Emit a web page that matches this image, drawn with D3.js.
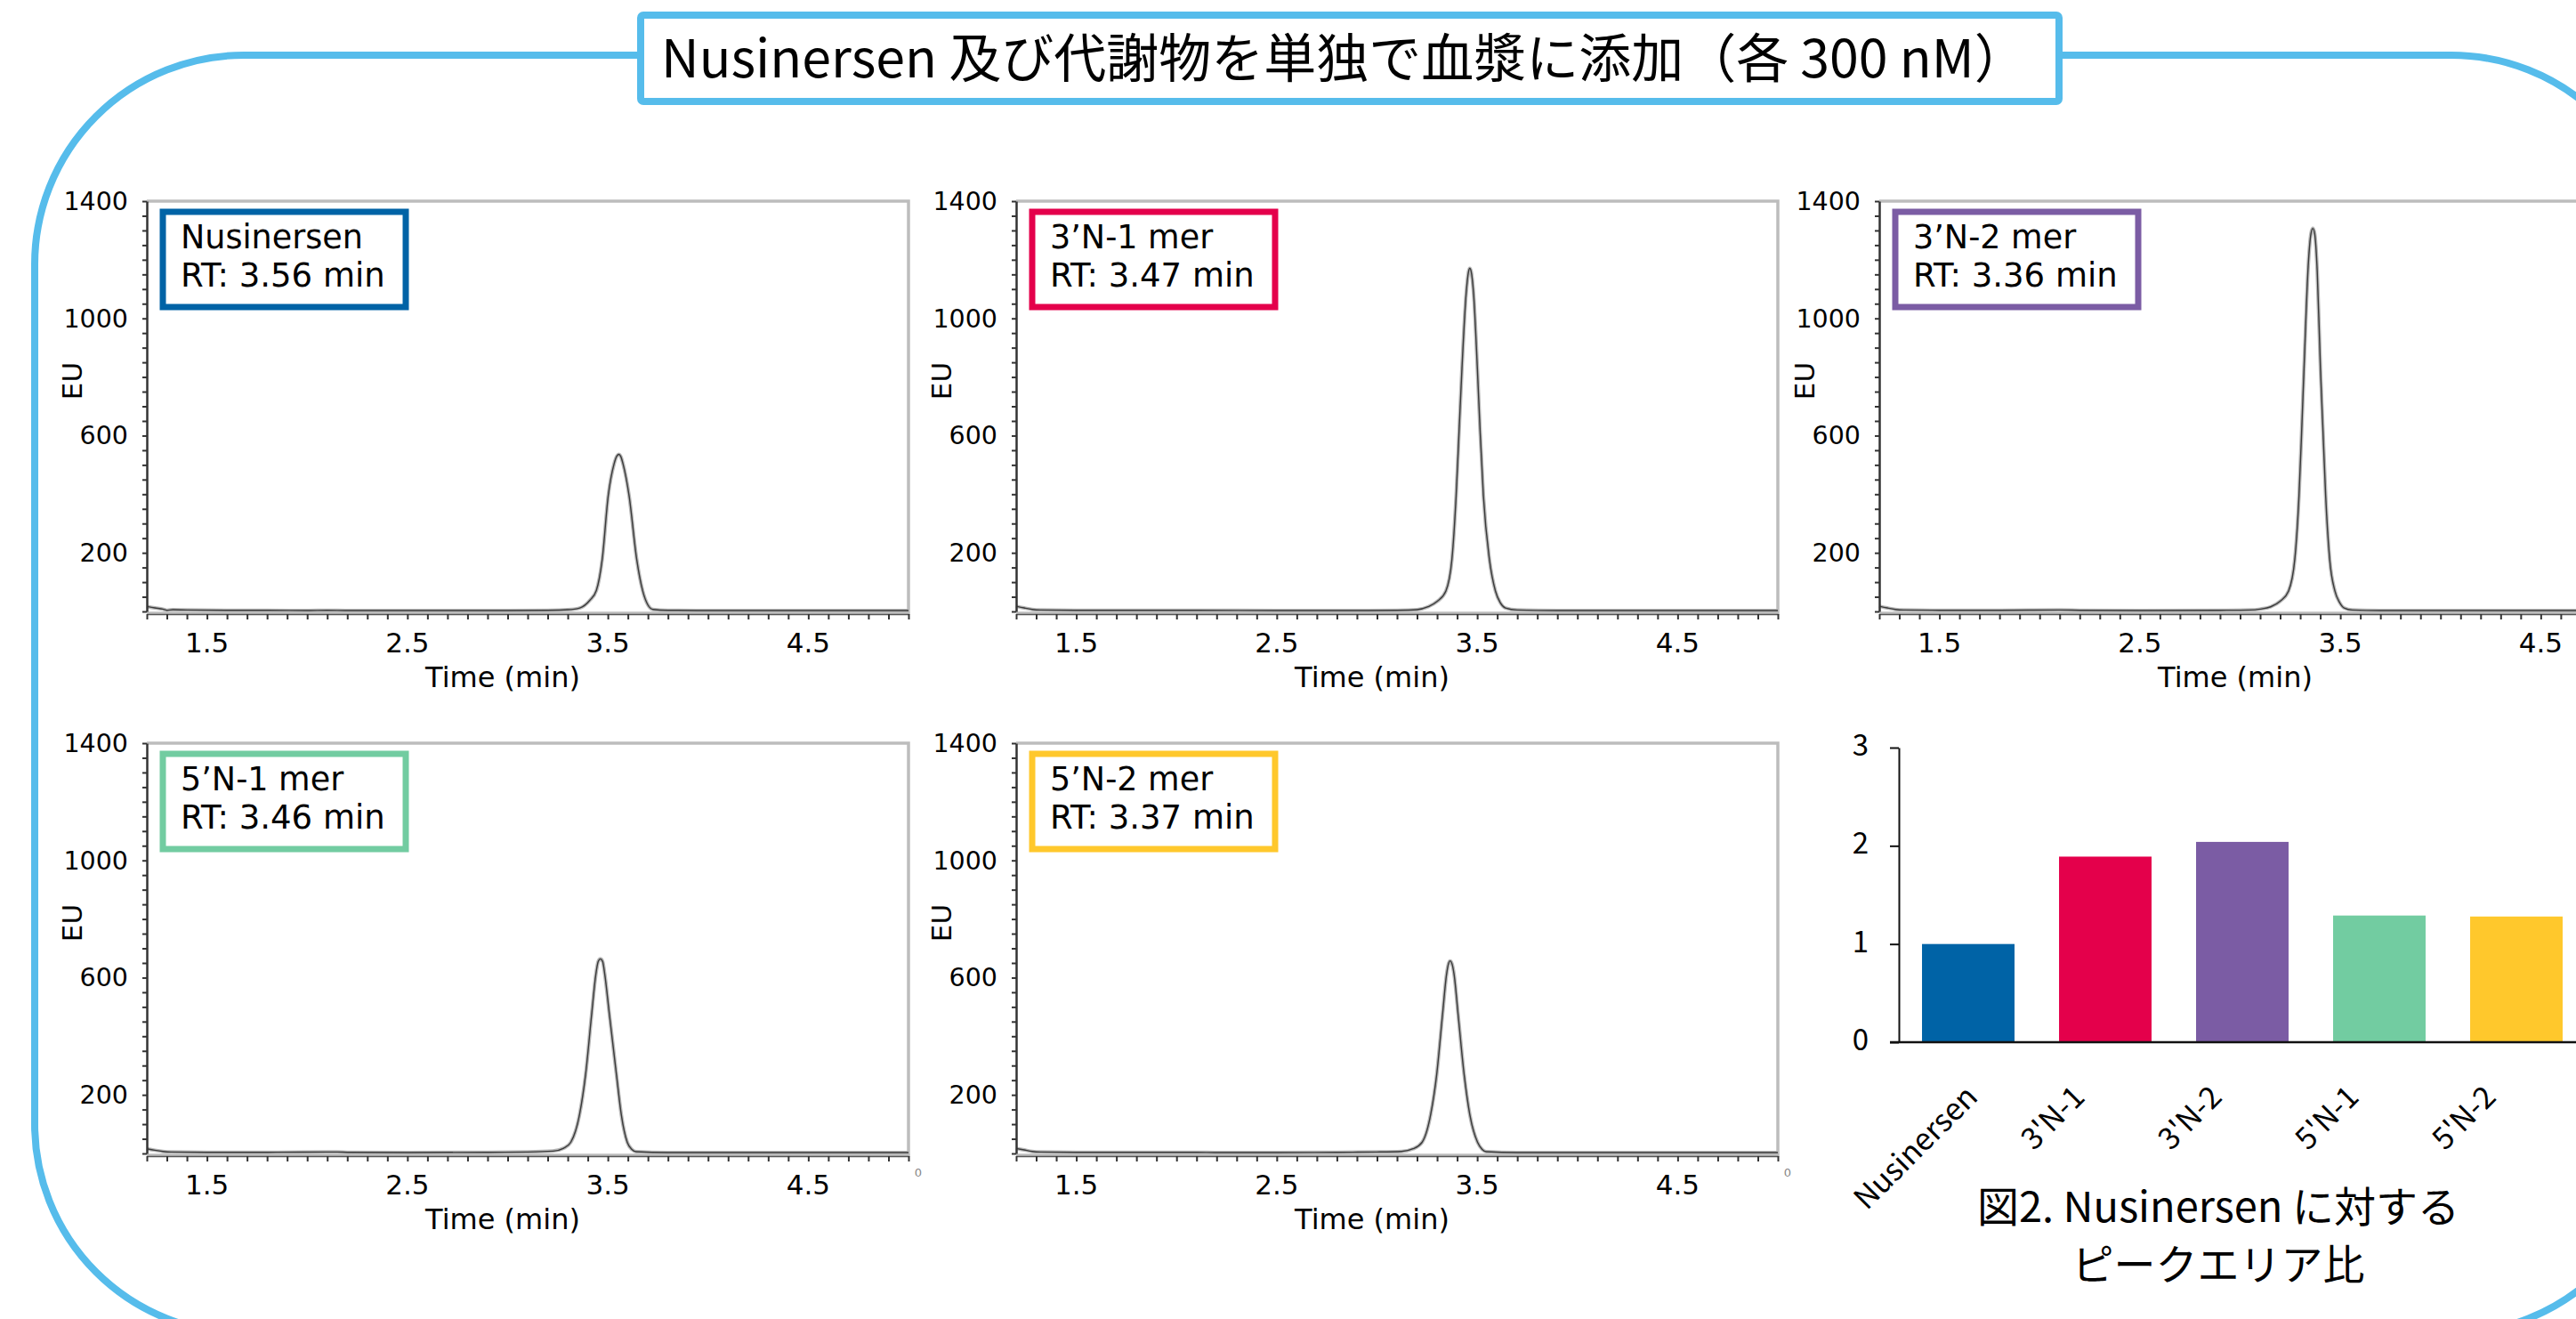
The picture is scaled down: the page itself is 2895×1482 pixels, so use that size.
<!DOCTYPE html>
<html><head><meta charset="utf-8">
<script src="https://cdn.jsdelivr.net/npm/d3@7"></script>
<style>
html,body{margin:0;padding:0;background:#fff;}
svg{display:block;}
</style></head>
<body>
<svg id="c" width="2895" height="1482"></svg>
<script>
// ---------------- data ----------------
const title = "Nusinersen 及び代謝物を単独で血漿に添加（各 300 nM）";
const compounds = ["Nusinersen", "3’N-1 mer", "3’N-2 mer", "5’N-1 mer", "5’N-2 mer"];
const retentionTimes = ["3.56", "3.47", "3.36", "3.46", "3.37"];
const seriesColors = ["#0063a6", "#e4004b", "#7b5ca4", "#72cca1", "#ffc82c"];
const xTickLabels = [1.5, 2.5, 3.5, 4.5];
const yTickLabels = [200, 600, 1000, 1400];
const xAxisTitle = "Time (min)";
const yAxisTitle = "EU";

// chromatograms [time (min), EU]
const traceNusinersen = [[1.2,17],[1.24,12],[1.28,8],[1.3,4],[1.33,6],[1.4,5],[1.6,4],[1.8,4],[2.0,3],[2.1,4],[2.2,3],[2.5,3],[2.8,3],[3.0,3],[3.2,4],[3.3,6],[3.36,12],[3.41,38],[3.443,72],[3.472,178],[3.502,395],[3.531,503],[3.545,530],[3.555,536],[3.565,528],[3.576,503],[3.606,395],[3.644,178],[3.674,70],[3.70,22],[3.725,7],[3.8,4],[4.0,3],[4.5,3],[5.0,3]];
const trace3N1 = [[1.2,18],[1.24,12],[1.28,7],[1.32,5],[1.5,4],[1.8,4],[2.1,4],[2.5,3],[2.9,3],[3.1,4],[3.2,6],[3.255,16],[3.30,34],[3.344,70],[3.374,178],[3.395,395],[3.41,620],[3.424,828],[3.445,1085],[3.457,1160],[3.463,1171],[3.47,1160],[3.482,1085],[3.501,828],[3.515,610],[3.531,395],[3.561,178],[3.591,70],[3.615,30],[3.641,12],[3.7,5],[3.9,3],[4.5,3],[5.0,3]];
const trace3N2 = [[1.2,18],[1.24,12],[1.28,7],[1.32,5],[1.5,4],[1.8,4],[2.1,5],[2.2,4],[2.5,3],[2.9,4],[3.05,5],[3.1,8],[3.153,16],[3.2,35],[3.242,70],[3.273,178],[3.294,395],[3.307,610],[3.319,828],[3.34,1180],[3.354,1290],[3.363,1307],[3.372,1290],[3.385,1160],[3.401,828],[3.414,610],[3.427,395],[3.447,178],[3.473,70],[3.497,30],[3.519,12],[3.56,5],[3.7,3],[4.5,3],[5.0,3]];
const trace5N1 = [[1.2,16],[1.24,11],[1.28,7],[1.32,5],[1.5,4],[1.8,4],[2.15,5],[2.2,4],[2.5,3],[2.9,4],[3.1,5],[3.226,8],[3.28,18],[3.315,38],[3.359,133],[3.389,269],[3.419,473],[3.44,610],[3.452,655],[3.463,664],[3.474,655],[3.485,610],[3.508,473],[3.543,269],[3.567,133],[3.597,38],[3.62,14],[3.641,6],[3.8,3],[4.5,3],[5.0,3]];
const trace5N2 = [[1.2,17],[1.24,12],[1.28,7],[1.32,5],[1.5,4],[1.8,4],[2.1,4],[2.2,3],[2.5,3],[2.8,4],[3.0,5],[3.123,7],[3.18,16],[3.225,38],[3.268,133],[3.298,269],[3.327,473],[3.347,610],[3.357,648],[3.365,657],[3.374,648],[3.385,610],[3.405,473],[3.435,269],[3.463,133],[3.502,38],[3.525,14],[3.545,6],[3.7,3],[4.5,3],[5.0,3]];

// peak area ratio bar chart
const barCategories = ["Nusinersen", "3'N-1", "3'N-2", "5'N-1", "5'N-2"];
const barValues = [1.00, 1.89, 2.04, 1.29, 1.28];
const barTicks = [0, 1, 2, 3];
const captionLines = ["図2. Nusinersen に対する", "ピークエリア比"];

// ---------------- drawing ----------------
const svg = d3.select("#c");
const JP = "'Noto Sans CJK JP','Noto Sans',sans-serif";
const DV = "'DejaVu Sans',Verdana,sans-serif";
const frameBlue = "#56bceb";

svg.append("rect").attr("width", 2895).attr("height", 1482).attr("fill", "#fff");

// outer rounded frame
svg.append("rect").attr("x", 39).attr("y", 62).attr("width", 2951).attr("height", 1436)
  .attr("rx", 235).attr("ry", 235)
  .attr("fill", "none").attr("stroke", frameBlue).attr("stroke-width", 8);

// title box
svg.append("rect").attr("x", 720).attr("y", 17).attr("width", 1594).attr("height", 97)
  .attr("rx", 3).attr("fill", "#fff").attr("stroke", frameBlue).attr("stroke-width", 8);
svg.append("text").attr("x", 743).attr("y", 87)
  .attr("font-family", JP).attr("font-size", 59).attr("fill", "#000").text(title);

// chromatogram panels
const traces = [traceNusinersen, trace3N1, trace3N2, trace5N1, trace5N2];
const colX = [165, 1142, 2112], rowY = [226, 835], PW = 856, PH = 461;

traces.forEach((tr, i) => {
  const L = colX[i % 3], T = rowY[i < 3 ? 0 : 1];
  const x = d3.scaleLinear().domain([1.2, 5.0]).range([L, L + PW]);
  const y = d3.scaleLinear().domain([0, 1400]).range([T + PH, T]);
  const g = svg.append("g");

  // frame (top/right/bottom)
  g.append("path").attr("d", `M${L},${T}H${L + PW}V${y(0) + 2}H${L}`)
    .attr("fill", "none").attr("stroke", "#bdbdbd").attr("stroke-width", 3.5);

  // chromatogram trace
  const line = d3.line().x(d => x(d[0])).y(d => y(d[1])).curve(d3.curveMonotoneX);
  g.append("path").datum(tr).attr("d", line).attr("fill", "none")
    .attr("stroke", "#b8b8b8").attr("stroke-width", 4).attr("stroke-linejoin", "round");
  g.append("path").datum(tr).attr("d", line).attr("fill", "none")
    .attr("stroke", "#3a3a3a").attr("stroke-width", 1.4).attr("stroke-linejoin", "round");

  // bottom axis (minor ticks every 0.1 min)
  const ax = g.append("g").attr("transform", `translate(0,${y(0) + 3})`)
    .call(d3.axisBottom(x).tickValues(d3.range(12, 51).map(d => d / 10))
      .tickSize(6).tickSizeOuter(0).tickFormat(""));
  ax.select(".domain").attr("stroke", "#555").attr("stroke-width", 1.5);
  ax.selectAll(".tick line").attr("stroke", "#333").attr("stroke-width", 2);

  // left axis (minor ticks every 50 EU)
  const ay = g.append("g").attr("transform", `translate(${L},0)`)
    .call(d3.axisLeft(y).tickValues(d3.range(0, 1401, 50))
      .tickSize(5).tickSizeOuter(0).tickFormat(""));
  ay.select(".domain").attr("stroke", "#333").attr("stroke-width", 2.5);
  ay.selectAll(".tick line").attr("stroke", "#333").attr("stroke-width", 2);

  // tick labels
  g.selectAll(".xl").data(xTickLabels).enter().append("text")
    .attr("x", d => x(d)).attr("y", y(0) + 46).attr("text-anchor", "middle")
    .attr("font-family", DV).attr("font-size", 31).attr("fill", "#000").text(d => d);
  g.selectAll(".yl").data(yTickLabels).enter().append("text")
    .attr("x", L - 21).attr("y", d => y(d) + 10).attr("text-anchor", "end")
    .attr("font-family", DV).attr("font-size", 28.5).attr("fill", "#000").text(d => d);

  // axis titles
  g.append("text").attr("x", L + 400).attr("y", y(0) + 85).attr("text-anchor", "middle")
    .attr("font-family", DV).attr("font-size", 32).attr("fill", "#000").text(xAxisTitle);
  g.append("text").attr("transform", `translate(${L - 84},${T + 202}) rotate(-90)`)
    .attr("text-anchor", "middle").attr("dominant-baseline", "central")
    .attr("font-family", DV).attr("font-size", 31).attr("fill", "#000").text(yAxisTitle);

  // label box
  g.append("rect").attr("x", L + 18).attr("y", T + 12).attr("width", 273).attr("height", 107)
    .attr("fill", "#fff").attr("stroke", seriesColors[i]).attr("stroke-width", 7);
  g.append("text").attr("x", L + 38).attr("y", T + 53)
    .attr("font-family", DV).attr("font-size", 36.5).attr("fill", "#000").text(compounds[i]);
  g.append("text").attr("x", L + 38).attr("y", T + 96)
    .attr("font-family", DV).attr("font-size", 37).attr("fill", "#000")
    .text(`RT: ${retentionTimes[i]} min`);
});

// tiny leftover "0" marks at right of lower panels
[0, 1].forEach(c => {
  svg.append("text").attr("x", colX[c] + PW + 11).attr("y", rowY[1] + PH + 26)
    .attr("text-anchor", "middle").attr("font-family", DV).attr("font-size", 13)
    .attr("fill", "#888").text("0");
});

// bar chart
const bx = d3.scaleBand().domain(barCategories).range([2134, 2906])
  .paddingInner(0.325).paddingOuter(0.169);
const by = d3.scaleLinear().domain([0, 3]).range([1171, 840]);
const bg = svg.append("g");

bg.selectAll(".bar").data(barCategories).enter().append("rect")
  .attr("x", d => bx(d)).attr("y", (d, i) => by(barValues[i]))
  .attr("width", bx.bandwidth()).attr("height", (d, i) => by(0) - by(barValues[i]))
  .attr("fill", (d, i) => seriesColors[i]);

const bay = bg.append("g").attr("transform", "translate(2134,0)")
  .call(d3.axisLeft(by).tickValues(barTicks).tickSize(10).tickSizeOuter(0).tickFormat(""));
bay.select(".domain").attr("stroke", "#111").attr("stroke-width", 2);
bay.selectAll(".tick line").attr("stroke", "#111").attr("stroke-width", 2);
bg.append("line").attr("x1", 2124).attr("x2", 2895).attr("y1", by(0)).attr("y2", by(0))
  .attr("stroke", "#111").attr("stroke-width", 2.5);

bg.selectAll(".byl").data(barTicks).enter().append("text")
  .attr("x", 2100).attr("y", d => by(d) + 9).attr("text-anchor", "end")
  .attr("font-family", JP).attr("font-size", 33).attr("fill", "#000").text(d => d);

// rotated category labels: bounding box top aligned below axis, centred left of the bar
barCategories.forEach(c => {
  const lg = bg.append("g");
  lg.append("text").attr("transform", "rotate(-45)").attr("text-anchor", "end")
    .attr("font-family", JP).attr("font-size", 34).attr("fill", "#000").text(c);
  const bb = lg.node().getBBox();
  const cx = bx(c) + bx.bandwidth() / 2 - 61;
  lg.attr("transform", `translate(${cx - (bb.x + bb.width / 2)},${by(0) + 36 - bb.y})`);
});

captionLines.forEach((t, k) => {
  svg.append("text").attr("x", 2493).attr("y", 1373 + k * 65).attr("text-anchor", "middle")
    .attr("font-family", JP).attr("font-size", 47).attr("fill", "#000").text(t);
});
</script>
</body></html>
